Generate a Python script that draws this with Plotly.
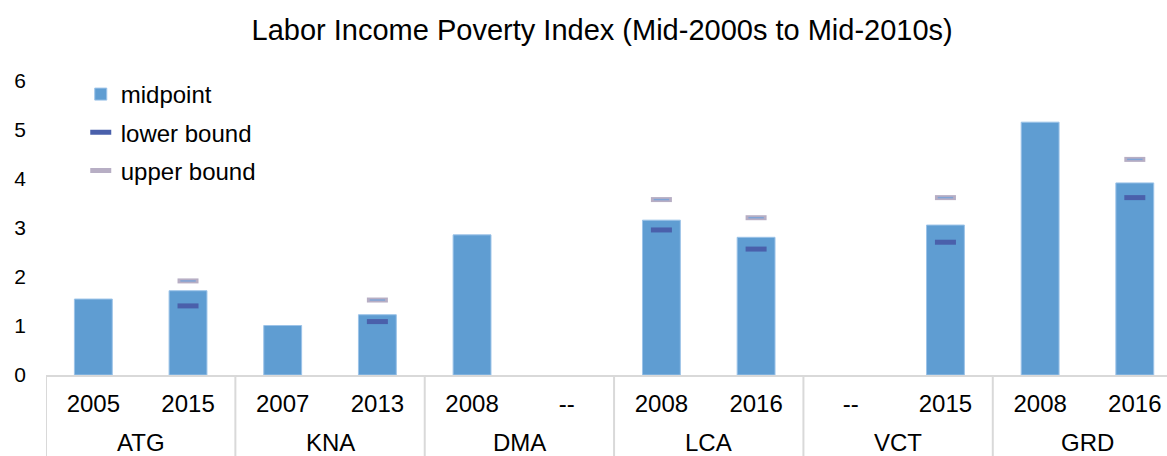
import plotly.graph_objects as go

# Survey years per slot (two slots per country, "--" = no survey)
groups = ["ATG", "KNA", "DMA", "LCA", "VCT", "GRD"]
years = ["2005", "2015", "2007", "2013", "2008", "--",
         "2008", "2016", "--", "2015", "2008", "2016"]

midpoint = [1.55, 1.72, 1.01, 1.23, 2.86, None, 3.16, 2.81, None, 3.06, 5.16, 3.92]
lower_bound = [None, 1.41, None, 1.09, None, None, 2.96, 2.57, None, 2.71, None, 3.62]
upper_bound = [None, 1.92, None, 1.53, None, None, 3.58, 3.21, None, 3.62, None, 4.40]

y_ticks = [0, 1, 2, 3, 4, 5, 6]

FONT = "Liberation Sans, Arial, sans-serif"
GRID = "#d9d9d9"
slots = list(range(len(years)))
per_group = len(years) // len(groups)

fig = go.Figure()

fig.add_trace(go.Bar(
    x=slots, y=midpoint, name="midpoint",
    marker=dict(color="#5f9dd2", line=dict(color="#9cc3e8", width=1)),
    width=0.4, legendgroup="a",
))

fig.add_trace(go.Scatter(
    x=slots, y=lower_bound, name="lower bound", mode="markers",
    marker=dict(symbol="line-ew", size=15,
                line=dict(color="#4a60ab", width=5)),
    legendgroup="b",
))

fig.add_trace(go.Scatter(
    x=slots, y=upper_bound, name="upper bound", mode="markers",
    marker=dict(symbol="line-ew", size=15,
                line=dict(color="#b7aec4", width=5)),
    legendgroup="c",
))
# thin blue core of the upper-bound dash
fig.add_trace(go.Scatter(
    x=slots, y=upper_bound, mode="markers", showlegend=False, hoverinfo="skip",
    marker=dict(symbol="line-ew", size=11,
                line=dict(color="#7fa3d6", width=1.5)),
))

# group dividers below the axis and country labels
for g, name in enumerate(groups):
    left = g * per_group - 0.5
    fig.add_shape(type="line", xref="x", yref="paper",
                  x0=left, x1=left, y0=0, y1=-0.4,
                  line=dict(color=GRID, width=2))
    fig.add_annotation(x=left + per_group / 2, xref="x", y=-0.228, yref="paper",
                       text=name, showarrow=False, yanchor="middle",
                       font=dict(family=FONT, size=24, color="#000000"))
fig.add_shape(type="line", xref="x", yref="paper",
              x0=len(years) - 0.5, x1=len(years) - 0.5, y0=0, y1=-0.4,
              line=dict(color=GRID, width=2))

fig.update_layout(
    width=1167, height=456,
    margin=dict(l=46, r=0, t=81, b=81),
    paper_bgcolor="white", plot_bgcolor="white",
    font=dict(family=FONT, size=24, color="#000000"),
    title=dict(text="Labor Income Poverty Index (Mid-2000s to Mid-2010s)",
               xref="container", x=0.516, xanchor="center",
               y=0.934, yanchor="middle",
               font=dict(family=FONT, size=29, color="#000000")),
    showlegend=True,
    legend=dict(x=0.031, xanchor="left", y=1.0306, yanchor="top",
                font=dict(family=FONT, size=24), tracegroupgap=4,
                bgcolor="rgba(0,0,0,0)", itemwidth=30),
)

fig.update_xaxes(
    range=[-0.5, 11.34], tickvals=slots, ticktext=years,
    showline=True, linecolor=GRID, linewidth=2,
    showgrid=False, zeroline=False, ticks="", ticklabelstandoff=6,
    tickfont=dict(family=FONT, size=24, color="#000000"),
)
fig.update_yaxes(
    range=[0, 6], tickvals=y_ticks, showgrid=False, zeroline=False,
    showline=False, ticks="", ticklabelstandoff=19,
    tickfont=dict(family=FONT, size=21, color="#000000"),
)

fig.write_html("out.html")
